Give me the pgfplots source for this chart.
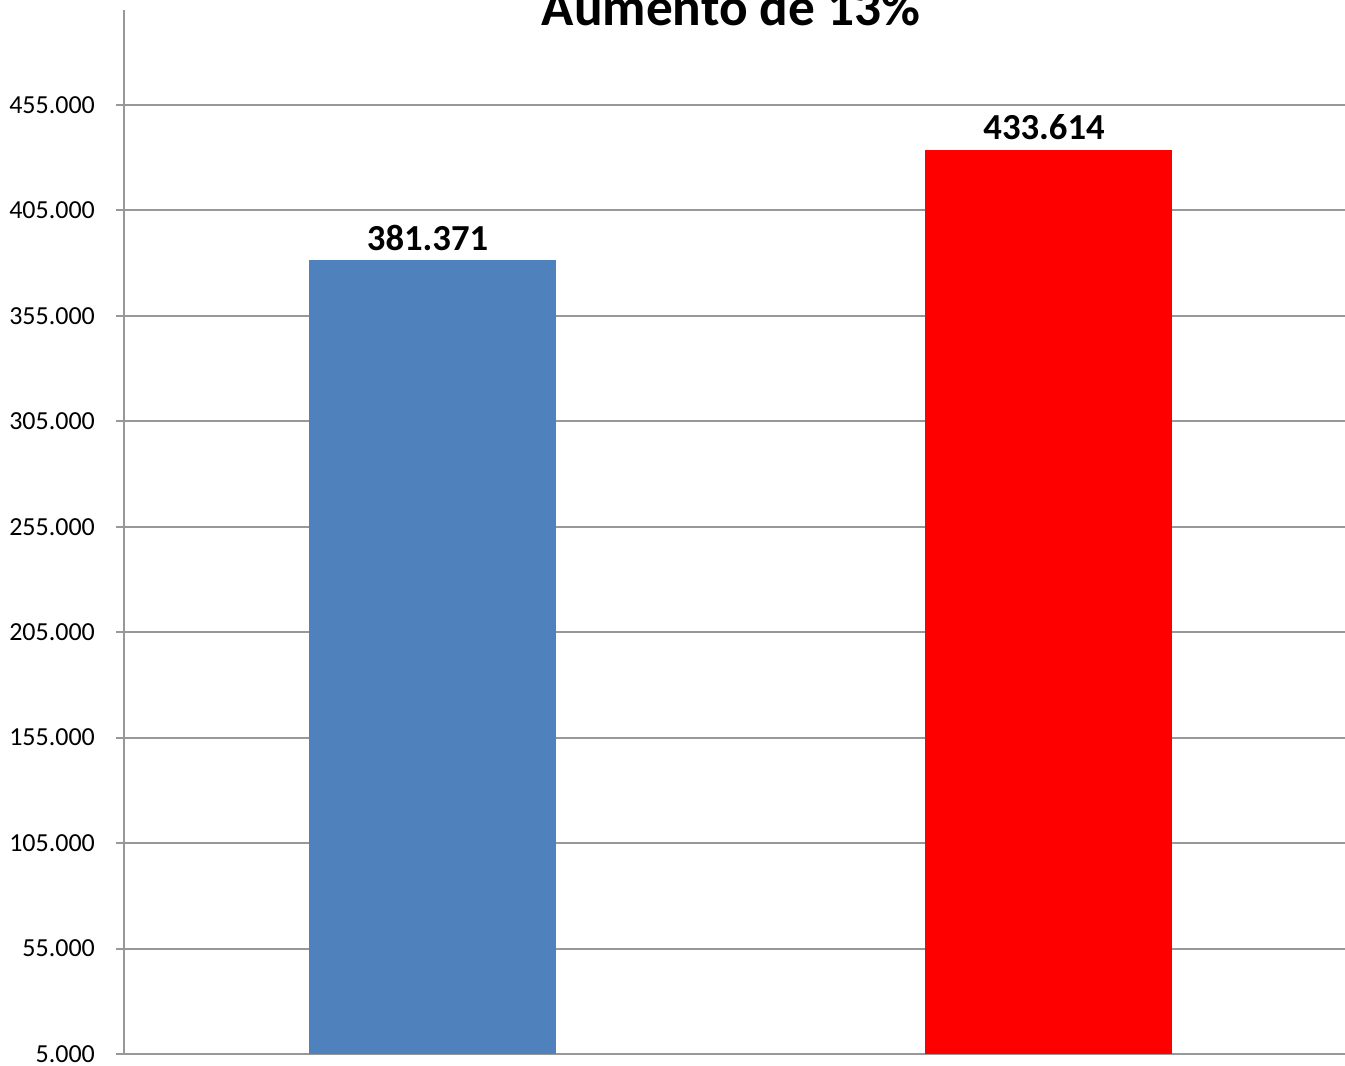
\documentclass[border=0pt]{standalone}
\usepackage{fontspec}
\setmainfont{Carlito}
\usepackage{pgfplots}
\pgfplotsset{compat=1.18}
\definecolor{barblue}{HTML}{4F81BD}
\definecolor{gridgray}{HTML}{989898}
\begin{document}
\begin{tikzpicture}[x=0.3pt,y=0.3pt]
% picture window in px of the reference (axis corner at px 124,1054)
\useasboundingbox (-124,-12) rectangle (1221,1054);
\clip (-124,-12) rectangle (1221,1054);
\begin{axis}[
  at={(0,0)}, anchor=south west,
  scale only axis,
  width=369.9pt, height=313.2pt,
  xmin=-0.5, xmax=1.5,
  ymin=5000, ymax=500000,
  axis lines*=left,
  axis line style={gridgray, line width=0.8pt},
  xtick=\empty,
  ytick={5000,55000,...,455000},
  ymajorgrids,
  grid style={gridgray, line width=0.6pt},
  tick style={gridgray, line width=0.6pt},
  tick align=outside,
  major tick length=2.4pt,
  /pgf/number format/assume math mode=true,
  /pgf/number format/.cd, fixed, 1000 sep={.}, /tikz/.cd,
  yticklabel style={font=\fontsize{7.8}{9}\selectfont, xshift=-2.8pt},
  scaled y ticks=false,
  ybar, bar shift=0pt, bar width=0.4,
  nodes near coords,
  every node near coord/.append style={font=\fontsize{11}{13}\selectfont\bfseries, black, xshift=-1.4pt, yshift=-0.6pt},
  clip=false,
]
\addplot[fill=barblue, draw=none] coordinates {(0,381371)};
\addplot[fill=red, draw=none] coordinates {(1,433614)};
\end{axis}
\node[anchor=base, font=\fontsize{16}{19}\selectfont\bfseries] at (607,1028) {Aumento de 13\%};
\end{tikzpicture}
\end{document}
